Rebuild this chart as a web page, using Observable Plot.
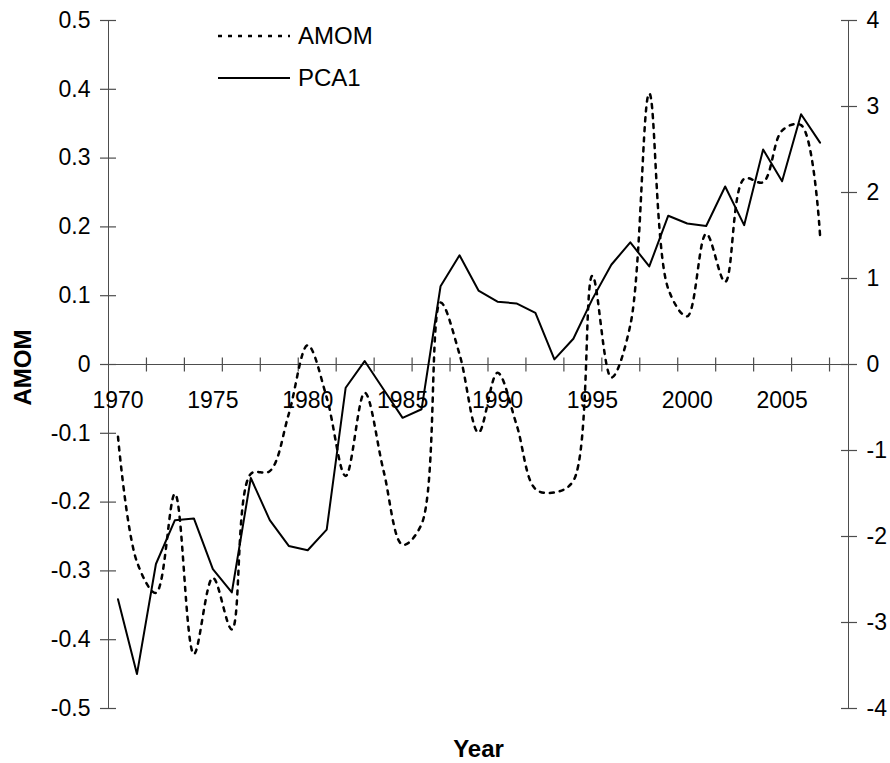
<!DOCTYPE html>
<html>
<head>
<meta charset="utf-8">
<script src="https://cdn.jsdelivr.net/npm/d3@7"></script>
<script src="https://cdn.jsdelivr.net/npm/@observablehq/plot@0.6"></script>
<style>
  body { margin: 0; background: #ffffff; }
  #chart svg { display: block; }
</style>
</head>
<body>
<div id="chart"></div>
<script>
// ---- data ----
const years = [1970,1971,1972,1973,1974,1975,1976,1977,1978,1979,
               1980,1981,1982,1983,1984,1985,1986,1987,1988,1989,
               1990,1991,1992,1993,1994,1995,1996,1997,1998,1999,
               2000,2001,2002,2003,2004,2005,2006,2007];
const amom  = [-0.105,-0.287,-0.332,-0.188,-0.421,-0.310,-0.385,-0.159,-0.155,-0.072,
                0.028,-0.048,-0.162,-0.041,-0.155,-0.262,-0.232, 0.090, 0.015,-0.099,
               -0.012,-0.087,-0.181,-0.186,-0.169, 0.129,-0.019, 0.057, 0.394, 0.110,
                0.070, 0.190, 0.120, 0.270, 0.265, 0.340, 0.348, 0.188];
const pca1  = [-2.73,-3.60,-2.32,-1.81,-1.79,-2.38,-2.65,-1.32,-1.81,-2.11,
               -2.16,-1.92,-0.27, 0.04,-0.29,-0.62,-0.52, 0.91, 1.27, 0.86,
                0.73, 0.71, 0.60, 0.06, 0.30, 0.76, 1.16, 1.42, 1.14, 1.73,
                1.64, 1.61, 2.07, 1.62, 2.50, 2.13, 2.91, 2.58];

// axis definitions
const leftTicks  = [-0.5,-0.4,-0.3,-0.2,-0.1,0,0.1,0.2,0.3,0.4,0.5];
const leftTickLabels = ["-0.5","-0.4","-0.3","-0.2","-0.1","0","0.1","0.2","0.3","0.4","0.5"];
const rightTicks = [-4,-3,-2,-1,0,1,2,3,4];
const rightMax = 4;            // secondary axis spans -4..4 against -0.5..0.5
const leftMax = 0.5;
const yearLabels = [1970,1975,1980,1985,1990,1995,2000,2005];
const yearTickMarks = [1971.5,1973.5,1975.5,1977.5,1979.5,1981.5,1983.5,1985.5,1987.5,1989.5,
                       1991.5,1993.5,1995.5,1997.5,1999.5,2001.5,2003.5,2005.5,2007.5];
const xDomain = [1969.5, 2008.5];
const seriesNames = ["AMOM", "PCA1"];

const table = years.map((y, i) => ({year: y, amom: amom[i], pca1: pca1[i]}));
const toLeft = v => v * leftMax / rightMax;

// custom tick symbol (vertical cross tick on the zero line)
const vTick = {draw(ctx, size) { const r = Math.sqrt(size / Math.PI); ctx.moveTo(0, -r); ctx.lineTo(0, r); }};

const axisColor = "#4d4d4d";
const font = "'Liberation Sans', Arial, Helvetica, sans-serif";

const chart = Plot.plot({
  width: 890,
  height: 763,
  marginLeft: 108,
  marginRight: 42,
  marginTop: 20,
  marginBottom: 55,
  style: {fontFamily: font, background: "#ffffff", color: "#000000"},
  x: {domain: xDomain, axis: null},
  y: {domain: [-leftMax, leftMax], axis: null},
  marks: [
    // axis lines
    Plot.ruleX([xDomain[0], xDomain[1]], {stroke: axisColor, strokeWidth: 1}),
    Plot.ruleY([0], {stroke: axisColor, strokeWidth: 1}),
    // left ticks (cross the axis: 8px each side)
    Plot.axisY(leftTicks, {anchor: "left", tickSize: 16, dx: 8, tickFormat: () => "", stroke: axisColor, strokeWidth: 1.2, label: null}),
    // right ticks
    Plot.axisY(rightTicks.map(toLeft), {anchor: "right", tickSize: 16, dx: -8, tickFormat: () => "", stroke: axisColor, strokeWidth: 1.2, label: null}),
    // x ticks on zero line
    Plot.dot(yearTickMarks, {x: d => d, y: 0, symbol: vTick, r: 7, fill: "none", stroke: axisColor, strokeWidth: 1.2}),
    // tick labels
    Plot.text(leftTicks, {x: xDomain[0], y: d => d, text: (d, i) => leftTickLabels[i], dx: -18, textAnchor: "end", fontSize: 23, fill: "#000"}),
    Plot.text(rightTicks, {x: xDomain[1], y: d => toLeft(d), text: d => String(d), dx: 18, textAnchor: "start", fontSize: 23, fill: "#000"}),
    Plot.text(yearLabels, {x: d => d, y: 0, text: d => String(d), dy: 36, textAnchor: "middle", fontSize: 23, fill: "#000"}),
    // axis titles
    Plot.text(["AMOM"], {frameAnchor: "left", text: d => d, rotate: -90, dx: -85, dy: 3, textAnchor: "middle", lineAnchor: "middle", fontWeight: "bold", fontSize: 24, fill: "#000"}),
    Plot.text(["Year"], {frameAnchor: "bottom", text: d => d, dy: 41, textAnchor: "middle", lineAnchor: "middle", fontWeight: "bold", fontSize: 24, fill: "#000"}),
    // data series
    Plot.line(table, {x: "year", y: "amom", curve: "catmull-rom", stroke: "#000", strokeWidth: 2.5, strokeDasharray: "4,6"}),
    Plot.line(table, {x: "year", y: d => toLeft(d.pca1), stroke: "#000", strokeWidth: 2})
  ]
});

// legend inside plot area (top-left)
const svg = d3.select(chart);
const lg = svg.append("g")
  .attr("font-family", font)
  .attr("font-size", 24)
  .attr("text-anchor", "start")
  .attr("fill", "#000");
const legendItems = [
  {name: seriesNames[0], dash: "4,6", width: 2.5, y: 36},
  {name: seriesNames[1], dash: null, width: 2, y: 78}
];
legendItems.forEach(it => {
  lg.append("line").attr("x1", 218).attr("x2", 290).attr("y1", it.y).attr("y2", it.y)
    .attr("stroke", "#000").attr("stroke-width", it.width)
    .attr("stroke-dasharray", it.dash);
  lg.append("text").attr("x", 298).attr("y", it.y).attr("dy", "0.35em")
    .attr("text-anchor", "start").text(it.name);
});

document.getElementById("chart").appendChild(chart);
</script>
</body>
</html>
